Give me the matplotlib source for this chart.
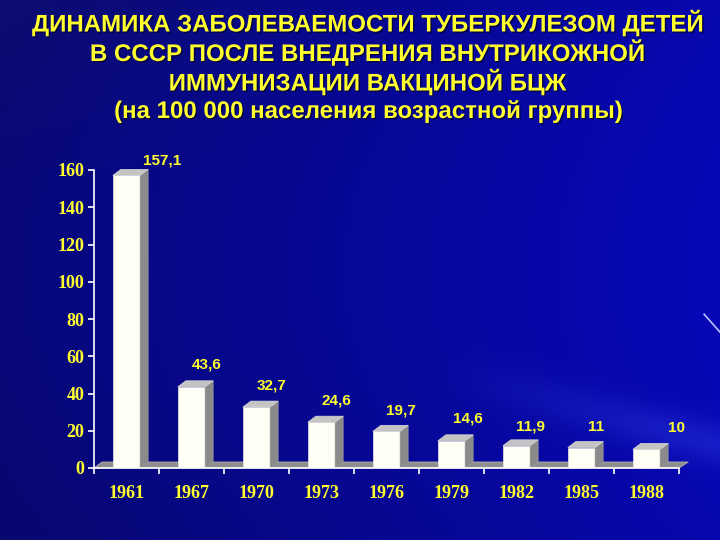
import matplotlib
matplotlib.use("Agg")
import matplotlib.pyplot as plt
from matplotlib.patches import Polygon
import matplotlib.patheffects as pe
import numpy as np

# данные
years = ["1961", "1967", "1970", "1973", "1976", "1979", "1982", "1985", "1988"]
values = [157.1, 43.6, 32.7, 24.6, 19.7, 14.6, 11.9, 11, 10]
value_labels = ["157,1", "43,6", "32,7", "24,6", "19,7", "14,6", "11,9", "11", "10"]
yticks = [0, 20, 40, 60, 80, 100, 120, 140, 160]
title_lines = [
    "ДИНАМИКА ЗАБОЛЕВАЕМОСТИ ТУБЕРКУЛЕЗОМ ДЕТЕЙ",
    "В СССР ПОСЛЕ ВНЕДРЕНИЯ ВНУТРИКОЖНОЙ",
    "ИММУНИЗАЦИИ ВАКЦИНОЙ БЦЖ",
    "(на 100 000 населения возрастной группы)",
]

YELLOW = "#ffff2e"

fig = plt.figure(figsize=(7.2, 5.4), dpi=100)

# фон - синий градиент
bg = fig.add_axes([0, 0, 1, 1])
yy, xx = np.mgrid[0:1:270j, 0:1:360j]
r = 0.03 + 0.02 * np.clip(1 - xx * 2, 0, 1) * np.clip(1 - yy * 3, 0, 1)
g = r.copy()
b = 0.44 + 0.24 * xx + 0.04 * np.sin(np.pi * yy)
band = np.exp(-((yy - 0.72 - 0.35 * (xx - 0.7)) / 0.04) ** 2) * np.clip((xx - 0.6) * 3, 0, 1)
r += 0.06 * band
g += 0.08 * band
b += 0.08 * band
img = np.clip(np.dstack([r, g, b]), 0, 1)
bg.imshow(img, extent=[0, 1, 0, 1], aspect="auto", origin="upper")
bg.plot([0.978, 1.0], [0.418, 0.385], color="#b8c0ff", lw=1.2)
bg.set_xlim(0, 1)
bg.set_ylim(0, 1)
bg.axis("off")

for i, line in enumerate(title_lines):
    fig.text(0.51, 1 - (23 + 29.5 * i) / 540, line, ha="center", va="center",
             color=YELLOW, fontsize=17.3, fontweight="bold",
             family="Liberation Sans",
             path_effects=[pe.withSimplePatchShadow(offset=(1, -1), shadow_rgbFace="#000030", alpha=0.8)])

ax = fig.add_axes([94 / 720, 72 / 540, 585 / 720, 298 / 540])
ax.set_facecolor("none")
ax.set_xlim(-0.5, 8.5)
ax.set_ylim(0, 160)

w = 0.42
dx = 8 / 65
dy = 6 / 1.8625

# пол
ax.add_patch(Polygon([(-0.5, 0), (-0.5 + dx, dy), (8.5 + dx + 0.02, dy), (8.5, 0)],
                     closed=True, facecolor="#8e8e8e", edgecolor="#b0b0b0", lw=0.6,
                     clip_on=False, zorder=1))

label_dx = [36, 15, 15, 15, 14, 16, 14, 15, 30]
label_dy = [15, 22, 22, 22, 21, 22, 19, 21, 21]

for i, v in enumerate(values):
    x0, x1 = i - w / 2, i + w / 2
    ax.add_patch(Polygon([(x0, 0), (x1, 0), (x1, v), (x0, v)], closed=True,
                         facecolor="#fffff6", edgecolor="#e8e8e8", lw=0.5, zorder=3))
    ax.add_patch(Polygon([(x1, 0), (x1 + dx, dy), (x1 + dx, v + dy), (x1, v)], closed=True,
                         facecolor="#8a8a8a", edgecolor="#9a9a9a", lw=0.5, zorder=3, clip_on=False))
    ax.add_patch(Polygon([(x0, v), (x0 + dx, v + dy), (x1 + dx, v + dy), (x1, v)], closed=True,
                         facecolor="#c4c4c4", edgecolor="#d8d8d8", lw=0.5, zorder=3, clip_on=False))
    ax.annotate(value_labels[i], (i, v), xytext=(label_dx[i], label_dy[i]),
                textcoords="offset pixels", ha="center", va="center",
                color=YELLOW, fontsize=11, fontweight="bold", family="Liberation Sans",
                annotation_clip=False)

for s in ["top", "right"]:
    ax.spines[s].set_visible(False)
ax.spines["left"].set_color("white")
ax.spines["bottom"].set_color("white")
ax.spines["left"].set_linewidth(1.2)
ax.spines["bottom"].set_linewidth(1.2)
ax.spines["bottom"].set_zorder(4)

ax.set_yticks(yticks)
ax.set_yticklabels([str(t) for t in yticks])
ax.tick_params(axis="y", colors="white", length=4, width=1.2, pad=3,
               labelcolor=YELLOW, labelsize=13)

ax.set_xticks(np.arange(-0.5, 9, 1))
ax.set_xticklabels([])
ax.set_xticks(range(len(years)), minor=True)
ax.set_xticklabels(years, minor=True)
ax.tick_params(axis="x", which="major", colors="white", length=4, width=1.2)
ax.tick_params(axis="x", which="minor", length=0, pad=12,
               labelcolor=YELLOW, labelsize=13)

for lab in ax.get_xticklabels(minor=True) + ax.get_yticklabels():
    lab.set_family("Liberation Serif")
    lab.set_fontweight("bold")

fig.savefig("out.png", dpi=100)
